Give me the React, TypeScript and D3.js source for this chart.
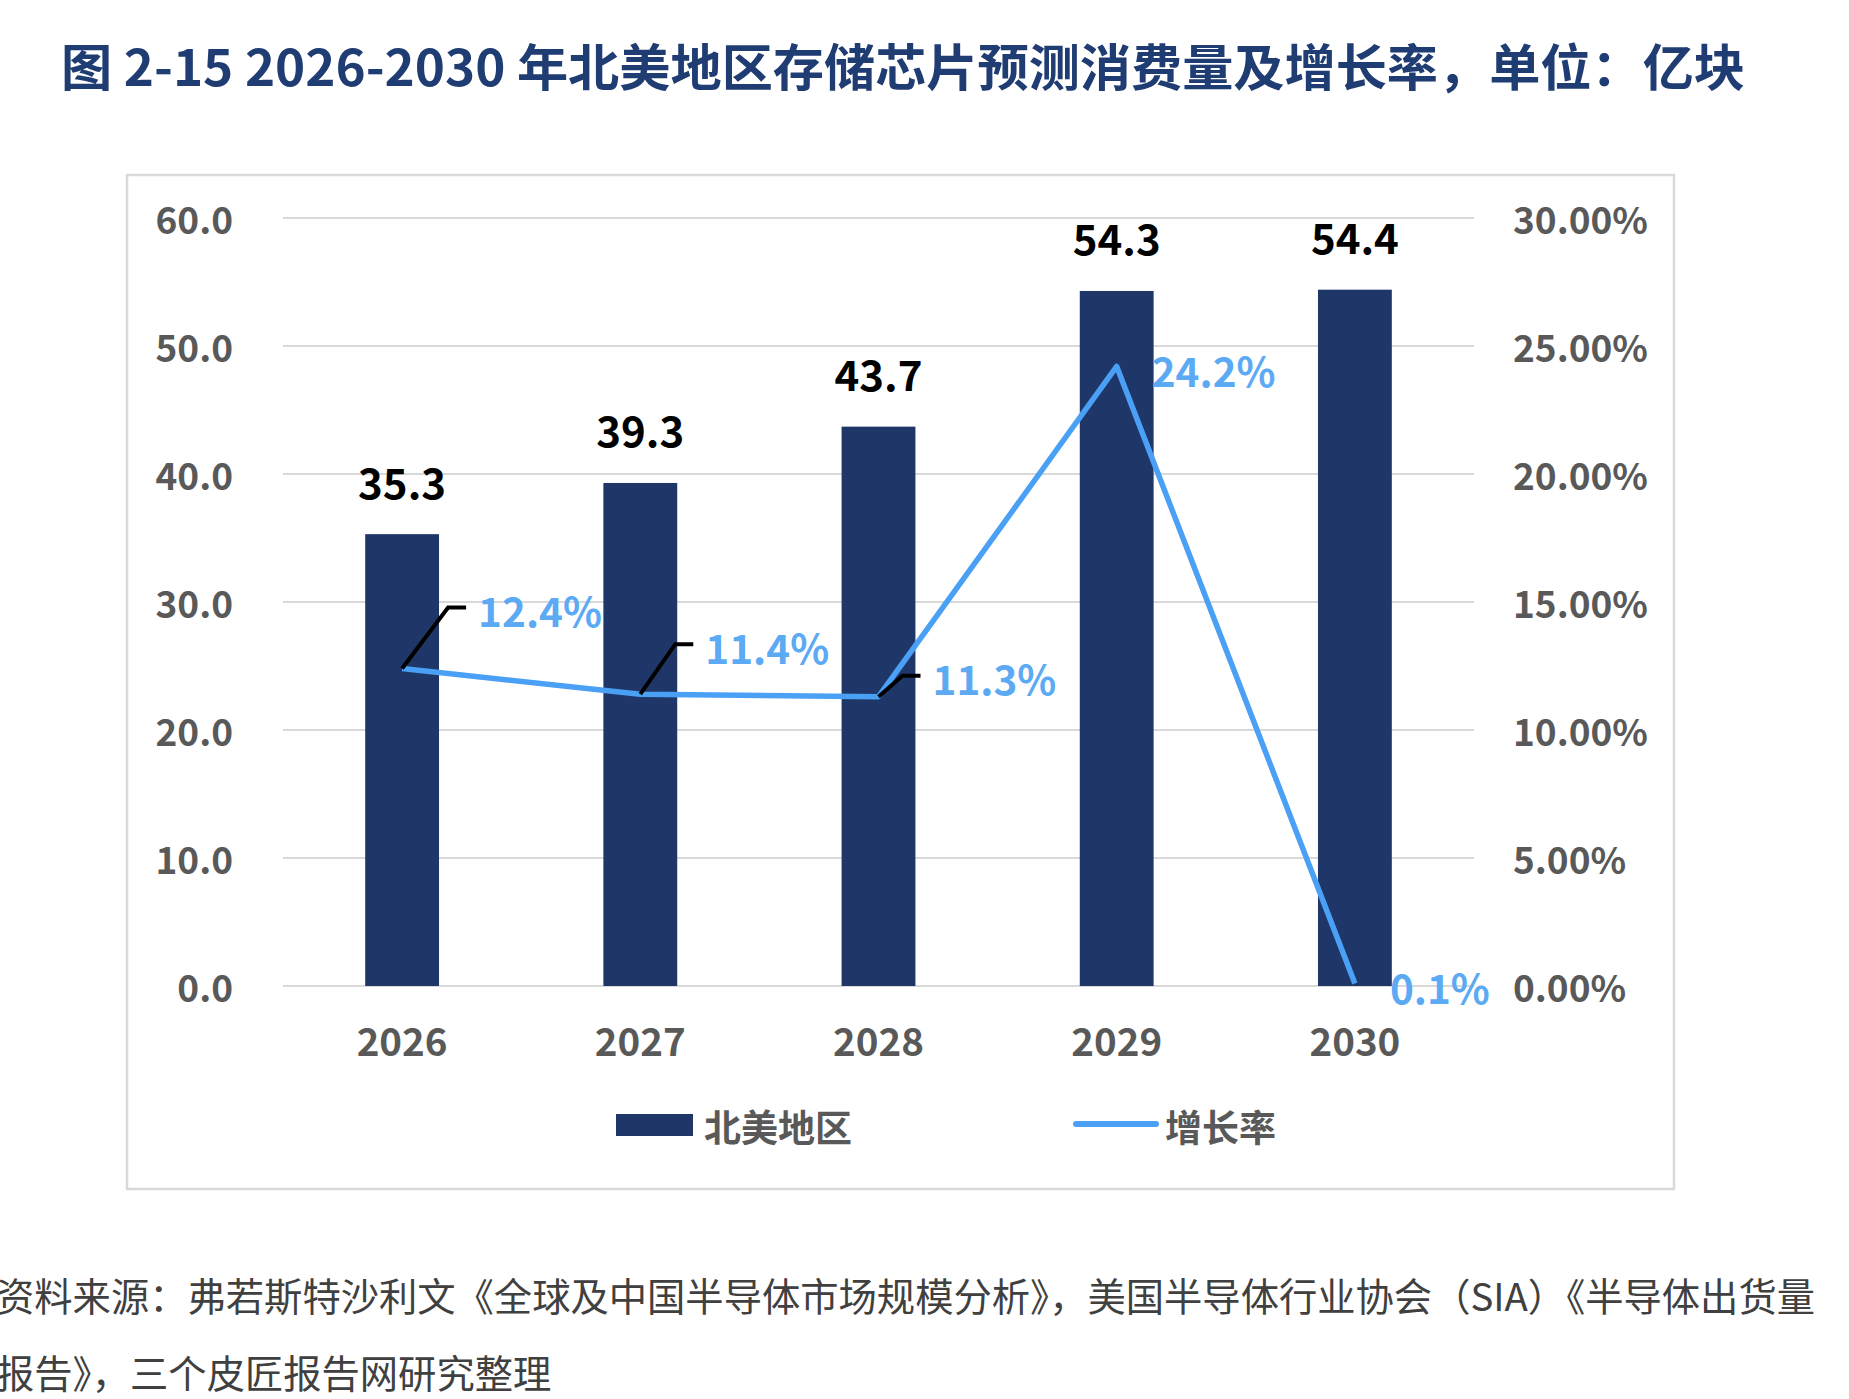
import React from 'react';
import * as d3 from 'd3';

// chart data
const years = ['2026', '2027', '2028', '2029', '2030'];
const volume = [35.3, 39.3, 43.7, 54.3, 54.4];
const growth = [0.124, 0.114, 0.113, 0.242, 0.001];
const growthLabels = ['12.4%', '11.4%', '11.3%', '24.2%', '0.1%'];
const leftTicks = [0, 10, 20, 30, 40, 50, 60];
const rightTicks = [0, 0.05, 0.1, 0.15, 0.2, 0.25, 0.3];

const title = '图  2-15 2026-2030 年北美地区存储芯片预测消费量及增长率，单位：亿块';
const source1 = '资料来源：弗若斯特沙利文《全球及中国半导体市场规模分析》，美国半导体行业协会（SIA）《半导体出货量';
const source2 = '报告》，三个皮匠报告网研究整理';

const FONT = "'Noto Sans CJK SC', 'Noto Sans', sans-serif";
const BAR = '#1F3768';
const LINE = '#4AA0F5';
const LABEL_BLUE = '#5CAAF3';
const GREY = '#595959';

// label placement for the growth line: [leader dx, leader dy] (0 = no leader)
const leaders = [
  [46, -61],
  [35, -50],
  [24, -21],
  [0, 0],
  [0, 0],
];

const App = () => {
  const W = 1849;
  const H = 1399;
  const plot = { left: 283, right: 1474, top: 218, bottom: 986 };

  const x = d3.scaleBand().domain(years).range([plot.left, plot.right]).paddingInner(0.69).paddingOuter(0.345);
  const y = d3.scaleLinear().domain([0, 60]).range([plot.bottom, plot.top]);
  const yR = d3.scaleLinear().domain([0, 0.3]).range([plot.bottom, plot.top]);
  const cx = (d: string) => (x(d) as number) + x.bandwidth() / 2;

  const line = d3
    .line<number>()
    .x((_, i) => cx(years[i]))
    .y((d) => yR(d));

  return (
    <svg
      width={W}
      height={H}
      style={{ position: 'absolute', left: 0, top: 0, background: '#fff' }}
      fontFamily={FONT}
    >
      <rect x={0} y={0} width={W} height={H} fill="#fff" />
      <text
        x={61}
        y={64}
        dominantBaseline="central"
        fontSize={50}
        fontWeight={700}
        fill="#1F3D73"
        textLength={1684}
        lengthAdjust="spacingAndGlyphs"
      >
        {title}
      </text>

      {/* frame */}
      <rect x={127} y={175} width={1547} height={1014} fill="none" stroke="#D9D9D9" strokeWidth={2.5} />

      {/* gridlines */}
      {leftTicks.map((t) => (
        <line key={t} x1={plot.left} x2={plot.right} y1={y(t)} y2={y(t)} stroke="#D9D9D9" strokeWidth={2} />
      ))}

      {/* left axis */}
      {leftTicks.map((t) => (
        <text key={'l' + t} x={233} y={y(t)} textAnchor="end" dominantBaseline="central" fontSize={37} fontWeight={700} fill={GREY}>
          {d3.format('.1f')(t)}
        </text>
      ))}

      {/* right axis */}
      {rightTicks.map((t) => (
        <text key={'r' + t} x={1513} y={yR(t)} dominantBaseline="central" fontSize={37} fontWeight={700} fill={GREY}>
          {d3.format('.2%')(t)}
        </text>
      ))}

      {/* bars */}
      {volume.map((v, i) => (
        <g key={years[i]}>
          <rect x={x(years[i])} y={y(v)} width={x.bandwidth()} height={y(0) - y(v)} fill={BAR} />
          <text x={cx(years[i])} y={y(v) - 54} textAnchor="middle" dominantBaseline="central" fontSize={42} fontWeight={700} fill="#000">
            {v.toFixed(1)}
          </text>
        </g>
      ))}

      {/* x labels */}
      {years.map((yr) => (
        <text key={'x' + yr} x={cx(yr)} y={1039} textAnchor="middle" dominantBaseline="central" fontSize={38.5} fontWeight={700} fill={GREY}>
          {yr}
        </text>
      ))}

      {/* growth line */}
      <path d={line(growth) as string} fill="none" stroke={LINE} strokeWidth={5.5} strokeLinejoin="round" />

      {growth.map((g, i) => {
        const px = cx(years[i]);
        const py = yR(g);
        const [dx, dy] = leaders[i];
        if (dx === 0) {
          return (
            <text key={'g' + i} x={px + 35} y={py + 3} dominantBaseline="central" fontSize={40.5} fontWeight={700} fill={LABEL_BLUE}>
              {growthLabels[i]}
            </text>
          );
        }
        const ex = px + dx;
        const ey = py + dy;
        return (
          <g key={'g' + i}>
            <polyline points={`${px},${py} ${ex},${ey} ${ex + 18},${ey}`} fill="none" stroke="#000" strokeWidth={4} />
            <text x={ex + 30} y={ey + 2} dominantBaseline="central" fontSize={40.5} fontWeight={700} fill={LABEL_BLUE}>
              {growthLabels[i]}
            </text>
          </g>
        );
      })}

      {/* legend */}
      <rect x={616} y={1114} width={77} height={22} fill={BAR} />
      <text x={704} y={1126} dominantBaseline="central" fontSize={37} fontWeight={700} fill={GREY}>
        北美地区
      </text>
      <line x1={1076} x2={1156} y1={1124} y2={1124} stroke={LINE} strokeWidth={6} strokeLinecap="round" />
      <text x={1165} y={1126} dominantBaseline="central" fontSize={37} fontWeight={700} fill={GREY}>
        增长率
      </text>

      {/* source */}
      <text x={-4} y={1294} dominantBaseline="central" fontSize={38.3} fill="#404040">
        {source1}
      </text>
      <text x={-4} y={1371} dominantBaseline="central" fontSize={38.3} fill="#404040">
        {source2}
      </text>
    </svg>
  );
};

export default App;
